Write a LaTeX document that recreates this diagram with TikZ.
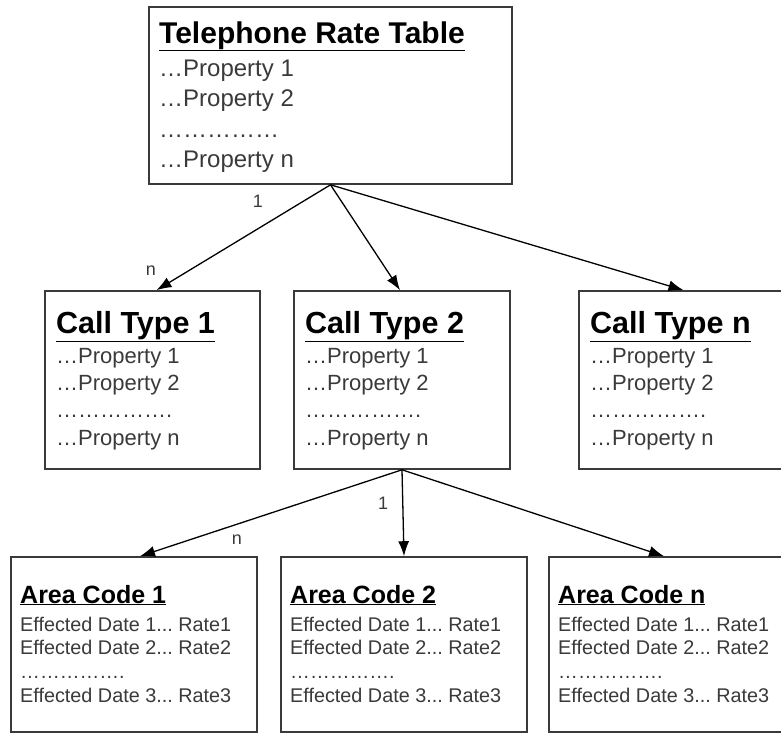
\documentclass[tikz,border=0pt]{standalone}
\usepackage{fontspec}
\setmainfont{Liberation Sans}
\usetikzlibrary{arrows.meta}
\definecolor{boxline}{HTML}{3A3A3A}
\definecolor{proptext}{HTML}{3A3A3A}
\frenchspacing
\begin{document}
\begin{tikzpicture}[x=1pt,y=-1pt,
  box/.style={draw=boxline, line width=1.6pt, fill=white, inner sep=0pt},
  bigttl/.style={anchor=base west, inner sep=0pt, text=black, font=\fontsize{30}{36}\selectfont\bfseries},
  midttl/.style={anchor=base west, inner sep=0pt, text=black, font=\fontsize{30.5}{36}\selectfont\bfseries},
  smlttl/.style={anchor=base west, inner sep=0pt, text=black, font=\fontsize{25}{30}\selectfont\bfseries},
  bigprop/.style={anchor=base west, inner sep=0pt, text=proptext, font=\fontsize{24}{29}\selectfont},
  midprop/.style={anchor=base west, inner sep=0pt, text=proptext, font=\fontsize{22}{27}\selectfont},
  smlprop/.style={anchor=base west, inner sep=0pt, text=proptext, font=\fontsize{19.8}{24}\selectfont},
  mult/.style={inner sep=0pt, text=proptext, font=\fontsize{18}{21}\selectfont},
  conn/.style={draw=black, line width=1.3pt, -{Latex[length=15pt,width=11pt]}}
]
\useasboundingbox (0,0) rectangle (781,734);
\clip (0,0) rectangle (781,734);
\fill[white] (0,0) rectangle (781,734);

% boxes
\node[box, minimum width=363pt, minimum height=177pt] (trt) at (330.5,95.5) {};
\node[box, minimum width=215pt, minimum height=178pt] (ct1) at (152.5,380) {};
\node[box, minimum width=216pt, minimum height=178pt] (ct2) at (402,380) {};
\node[box, minimum width=215pt, minimum height=178pt] (ctn) at (686.5,380) {};
\node[box, minimum width=246pt, minimum height=175pt] (ac1) at (134,644.5) {};
\node[box, minimum width=246pt, minimum height=175pt] (ac2) at (404,644.5) {};
\node[box, minimum width=246pt, minimum height=175pt] (acn) at (672,644.5) {};

% top box text
\node[bigttl] (trt-t) at (159,43) {\underline{Telephone Rate Table}};
\node[bigprop] (trt-1) at (159,76) {…Property 1};
\node[bigprop] (trt-2) at (159,106) {…Property 2};
\node[bigprop] (trt-d) at (159,137) {……………};
\node[bigprop] (trt-n) at (159,167) {…Property n};

% call type texts
\foreach \nm/\xx/\ttl in {ct1/56/Call Type 1, ct2/305/Call Type 2, ctn/590/Call Type n}{
  \node[midttl] (\nm-t) at (\xx,333) {\underline{\ttl}};
  \node[midprop] (\nm-1) at (\xx,363) {…Property 1};
  \node[midprop] (\nm-2) at (\xx,390) {…Property 2};
  \node[midprop] (\nm-d) at (\xx,417) {…………….};
  \node[midprop] (\nm-n) at (\xx,445) {…Property n};
}

% area code texts
\foreach \nm/\xx/\ttl in {ac1/20/Area Code 1, ac2/290/Area Code 2, acn/558/Area Code n}{
  \node[smlttl] (\nm-t) at (\xx,603) {\underline{\ttl}};
  \node[smlprop] (\nm-1) at (\xx,631) {Effected Date 1... Rate1};
  \node[smlprop] (\nm-2) at (\xx,654) {Effected Date 2... Rate2};
  \node[smlprop] (\nm-d) at (\xx,678) {…………….};
  \node[smlprop] (\nm-3) at (\xx,702) {Effected Date 3... Rate3};
}

% connectors
\draw[conn] (trt.south) -- ([xshift=4pt]ct1.north);
\draw[conn] (trt.south) -- ([xshift=-2pt]ct2.north);
\draw[conn] (trt.south) -- ([xshift=-3pt]ctn.north);
\draw[conn] (ct2.south) -- ([xshift=6pt]ac1.north);
\draw[conn] (ct2.south) -- (ac2.north);
\draw[conn] (ct2.south) -- ([xshift=-8pt]acn.north);

% multiplicity labels
\node[mult] (m1) at (258,201) {1};
\node[mult] (m2) at (151,271) {n};
\node[mult] (m3) at (383,503) {1};
\node[mult] (m4) at (237,540) {n};
\end{tikzpicture}
\end{document}
